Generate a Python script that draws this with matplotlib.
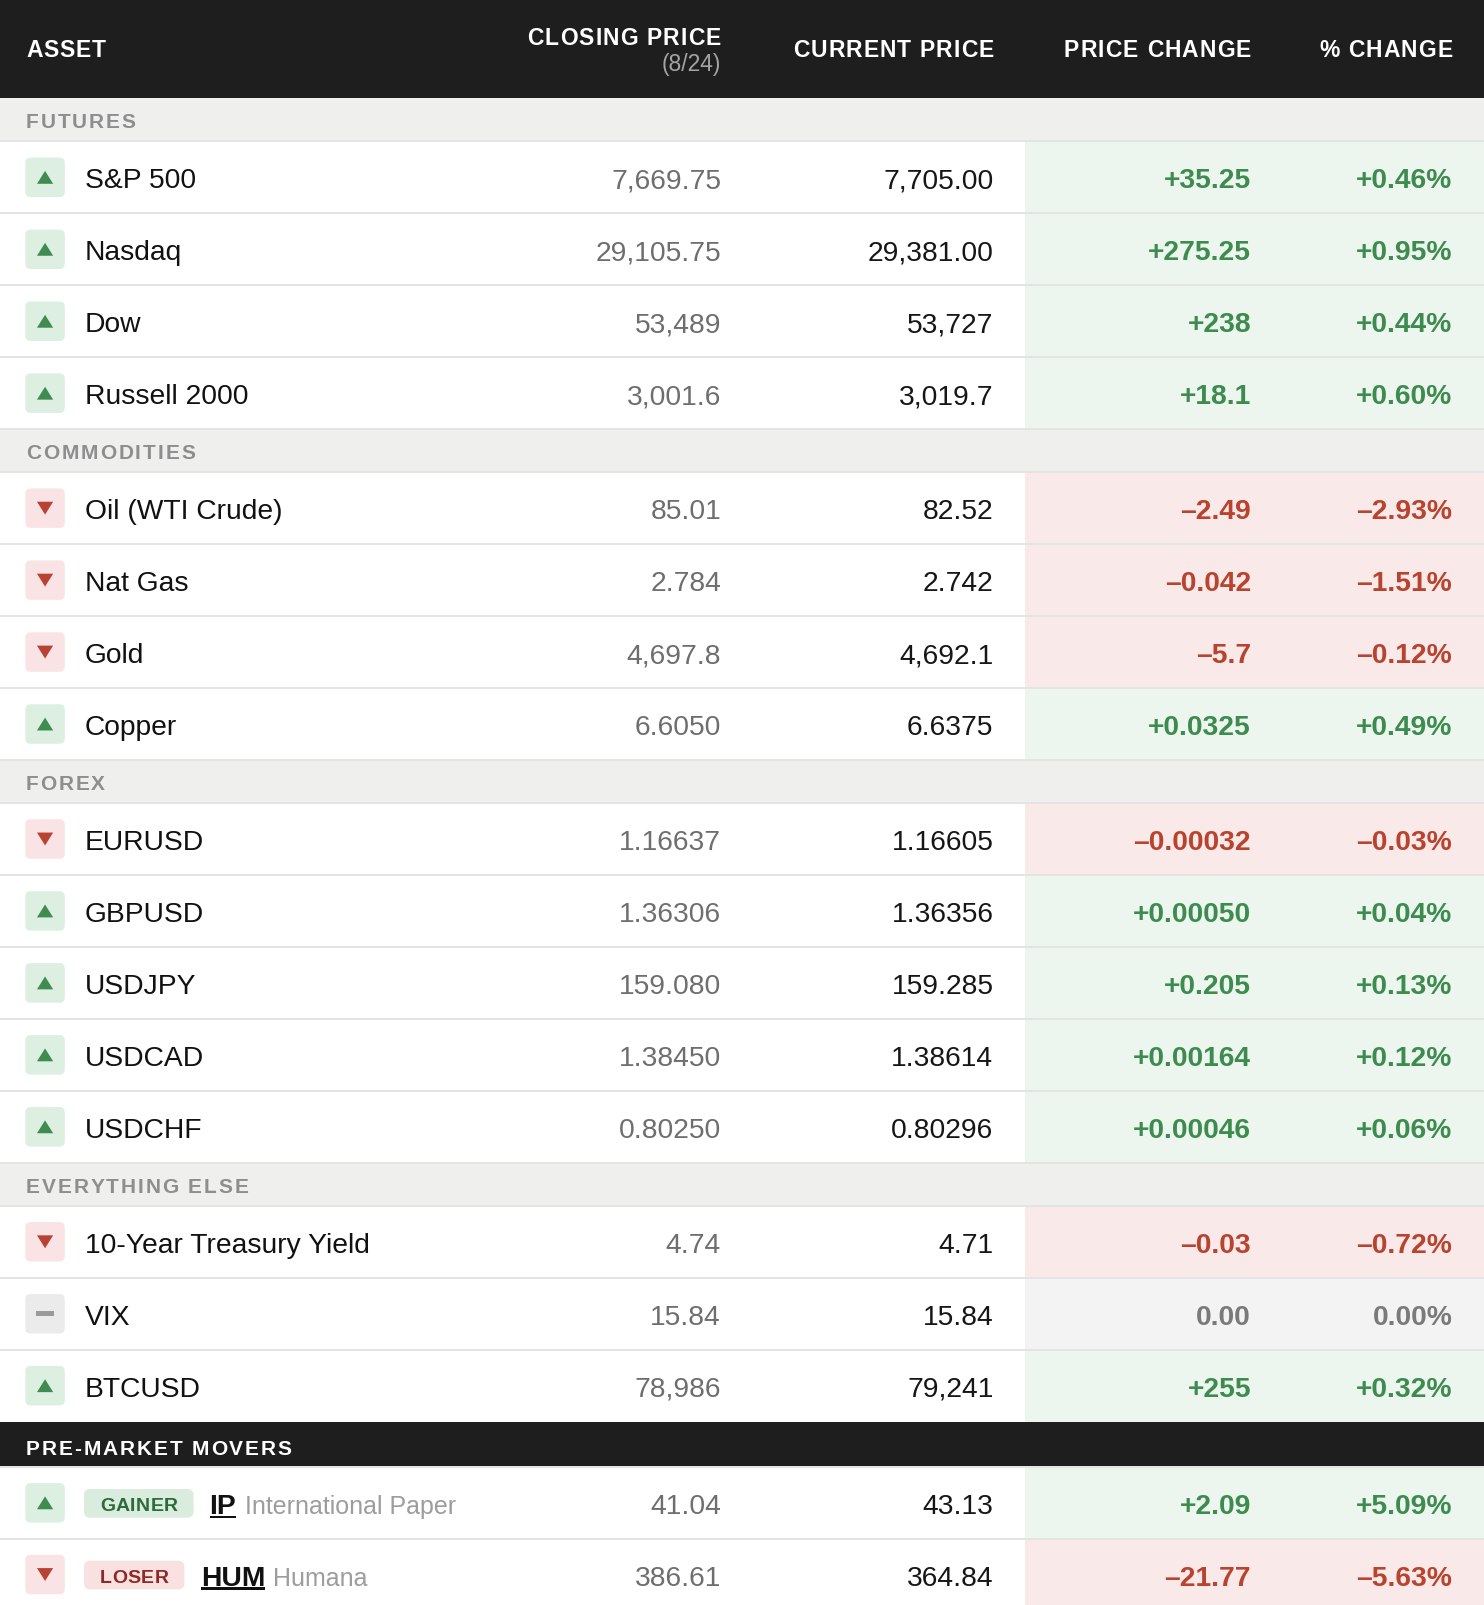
import matplotlib
matplotlib.use("Agg")
import matplotlib.pyplot as plt
from matplotlib.patches import Rectangle, FancyBboxPatch, Polygon
from matplotlib.font_manager import FontProperties

# ---------------- data ----------------
column_headers = ["ASSET", "CLOSING PRICE", "CURRENT PRICE", "PRICE CHANGE", "% CHANGE"]
closing_date = "(8/24)"

section_names = ["FUTURES", "COMMODITIES", "FOREX", "EVERYTHING ELSE"]
section_sizes = [4, 4, 5, 3]

assets = ["S&P 500", "Nasdaq", "Dow", "Russell 2000",
          "Oil (WTI Crude)", "Nat Gas", "Gold", "Copper",
          "EURUSD", "GBPUSD", "USDJPY", "USDCAD", "USDCHF",
          "10-Year Treasury Yield", "VIX", "BTCUSD"]
closing_prices = ["7,669.75", "29,105.75", "53,489", "3,001.6",
                  "85.01", "2.784", "4,697.8", "6.6050",
                  "1.16637", "1.36306", "159.080", "1.38450", "0.80250",
                  "4.74", "15.84", "78,986"]
current_prices = ["7,705.00", "29,381.00", "53,727", "3,019.7",
                  "82.52", "2.742", "4,692.1", "6.6375",
                  "1.16605", "1.36356", "159.285", "1.38614", "0.80296",
                  "4.71", "15.84", "79,241"]
price_changes = ["+35.25", "+275.25", "+238", "+18.1",
                 "\u20132.49", "\u20130.042", "\u20135.7", "+0.0325",
                 "\u20130.00032", "+0.00050", "+0.205", "+0.00164", "+0.00046",
                 "\u20130.03", "0.00", "+255"]
pct_changes = ["+0.46%", "+0.95%", "+0.44%", "+0.60%",
               "\u20132.93%", "\u20131.51%", "\u20130.12%", "+0.49%",
               "\u20130.03%", "+0.04%", "+0.13%", "+0.12%", "+0.06%",
               "\u20130.72%", "0.00%", "+0.32%"]

mover_title = "PRE-MARKET MOVERS"
mover_tags = ["GAINER", "LOSER"]
mover_tickers = ["IP", "HUM"]
mover_names = ["International Paper", "Humana"]
mover_closing = ["41.04", "386.61"]
mover_current = ["43.13", "364.84"]
mover_changes = ["+2.09", "\u201321.77"]
mover_pcts = ["+5.09%", "\u20135.63%"]

# ---------------- style ----------------
FONT = "Liberation Sans"
DARK = "#1e1e1e"
SECTION_BG = "#efefed"
SECTION_FG = "#8e8e8e"
LINE = "#e4e4e4"
STYLE = {
    "up":   dict(fg="#3d8b4f", bg="#ecf6ee", icon_bg="#dcefe1", icon_fg="#3f8b50",
                 pill_bg="#d9ecdd", pill_fg="#2d6b3d"),
    "down": dict(fg="#b8432f", bg="#f9e9e8", icon_bg="#fae3e4", icon_fg="#b94333",
                 pill_bg="#f9e1e2", pill_fg="#8e2a25"),
    "flat": dict(fg="#7a7a7a", bg="#f3f3f3", icon_bg="#ebebeb", icon_fg="#9a9a9a",
                 pill_bg="#eeeeee", pill_fg="#777777"),
}

W, H = 1449.0, 1568.0
fig = plt.figure(figsize=(14.84, 16.06), dpi=100)
ax = fig.add_axes([0, 0, 1, 1])
ax.set_xlim(0, W)
ax.set_ylim(H, 0)
ax.axis("off")
renderer = fig.canvas.get_renderer()
PX = W / 1484.0

HEADER_H = 97.0
SECTION_H = 42.0
ROW_H = 70.25
DARK_H = 44.25
MOVER_H = 70.0
X_NAME = 83.0
X_ICON = 44.0
COL_RIGHT = [None, 704.0, 970.0, 1221.5, 1418.0]
CHANGE_X0 = 1001.0
ROW_FS = 20.3
CAP = 0.716


def text_w(s, size, weight):
    fp = FontProperties(family=FONT, size=size, weight=weight)
    w, h, d = renderer.get_text_width_height_descent(s, fp, ismath=False)
    return w * PX


_adv = {}


def adv(ch, size, weight):
    k = (ch, size, weight)
    if k not in _adv:
        _adv[k] = text_w("|" + ch + "|", size, weight) - text_w("||", size, weight)
    return _adv[k]


def tracked(x, y, s, size, weight, color, target, ha="left"):
    advs = [adv(c, size, weight) for c in s]
    natural = sum(advs)
    sp = (target - natural) / (len(s) - 1) if len(s) > 1 else 0.0
    total = natural + sp * (len(s) - 1)
    cx = x if ha == "left" else x - total
    for c, a in zip(s, advs):
        if c != " ":
            ax.text(cx, y, c, fontsize=size, fontweight=weight, color=color,
                    family=FONT, ha="left", va="baseline", zorder=5)
        cx += a + sp


def baseline(center, size):
    return center + CAP * size * (100 / 72.0) * PX / 2.0


def direction(change):
    if change.startswith("+"):
        return "up"
    if change.startswith("\u2013") or change.startswith("-"):
        return "down"
    return "flat"


def draw_icon(cy, d):
    st = STYLE[d]
    s = 38.5
    ax.add_patch(FancyBboxPatch((X_ICON - s / 2, cy - s / 2), s, s,
                                boxstyle="round,pad=0,rounding_size=5",
                                fc=st["icon_bg"], ec="none", zorder=3))
    hw, hh = 7.9, 6.3
    if d == "up":
        pts = [(X_ICON - hw, cy + hh), (X_ICON + hw, cy + hh), (X_ICON, cy - hh)]
        ax.add_patch(Polygon(pts, closed=True, fc=st["icon_fg"], ec="none", zorder=4))
    elif d == "down":
        pts = [(X_ICON - hw, cy - hh), (X_ICON + hw, cy - hh), (X_ICON, cy + hh)]
        ax.add_patch(Polygon(pts, closed=True, fc=st["icon_fg"], ec="none", zorder=4))
    else:
        ax.add_patch(Rectangle((X_ICON - 9.2, cy - 2.2), 18.4, 4.4,
                               fc=st["icon_fg"], ec="none", zorder=4))


def draw_values(cy, top, height, close, cur, chg, pct):
    d = direction(chg)
    st = STYLE[d]
    ax.add_patch(Rectangle((CHANGE_X0, top), W - CHANGE_X0, height,
                           fc=st["bg"], ec="none", zorder=1))
    by = baseline(cy, ROW_FS)
    ax.text(COL_RIGHT[1], by, close, fontsize=ROW_FS, color="#6e6e6e", family=FONT,
            ha="right", va="baseline", zorder=5)
    ax.text(COL_RIGHT[2], by, cur, fontsize=ROW_FS, color="#161616", family=FONT,
            ha="right", va="baseline", zorder=5)
    ax.text(COL_RIGHT[3], by, chg, fontsize=ROW_FS, color=st["fg"], family=FONT,
            fontweight="bold", ha="right", va="baseline", zorder=5)
    ax.text(COL_RIGHT[4], by, pct, fontsize=ROW_FS, color=st["fg"], family=FONT,
            fontweight="bold", ha="right", va="baseline", zorder=5)
    draw_icon(cy, d)
    return d


def hline(y):
    ax.add_patch(Rectangle((0, y - 1.0), W, 2.0, fc=LINE, ec="none", zorder=2))


# ---------------- header ----------------
ax.add_patch(Rectangle((0, 0), W, HEADER_H, fc=DARK, ec="none", zorder=1))
HFS = 16.5
header_targets = [77.5, 189.5, 195.5, 182.8, 129.5]
tracked(25.4, 55.8, column_headers[0], HFS, "bold", "white", header_targets[0])
tracked(COL_RIGHT[1], 44.2, column_headers[1], HFS, "bold", "white", header_targets[1], ha="right")
ax.text(COL_RIGHT[1], 69.5, closing_date, fontsize=16.5, color="#a3a3a3", family=FONT,
        ha="right", va="baseline", zorder=5)
for i in (2, 3, 4):
    tracked(COL_RIGHT[i], 55.8, column_headers[i], HFS, "bold", "white",
            header_targets[i], ha="right")

# ---------------- sections ----------------
section_targets = [106.4, 165.0, 77.0, 217.0]
SFS = 15
y = HEADER_H
idx = 0
for si, (sname, n) in enumerate(zip(section_names, section_sizes)):
    ax.add_patch(Rectangle((0, y), W, SECTION_H, fc=SECTION_BG, ec="none", zorder=1))
    if si > 0:
        hline(y)
    tracked(25.4, y + SECTION_H / 2 + 7.2, sname, SFS, "bold", SECTION_FG, section_targets[si])
    y += SECTION_H
    hline(y)
    for r in range(n):
        cy = y + ROW_H / 2
        draw_values(cy, y, ROW_H, closing_prices[idx], current_prices[idx],
                    price_changes[idx], pct_changes[idx])
        ax.text(X_NAME, baseline(cy, ROW_FS), assets[idx], fontsize=ROW_FS, color="#111111",
                family=FONT, ha="left", va="baseline", zorder=5)
        y += ROW_H
        if r < n - 1:
            hline(y)
        idx += 1

# ---------------- pre-market movers ----------------
ax.add_patch(Rectangle((0, y), W, DARK_H, fc=DARK, ec="none", zorder=1))
tracked(25.4, y + 31.8, mover_title, SFS, "bold", "white", 259.4)
y += DARK_H
pill_w = {"GAINER": 107.0, "LOSER": 98.0}
tag_targets = {"GAINER": 76.4, "LOSER": 66.9}
name_x = {"IP": 239.0, "HUM": 267.0}
ticker_x = {"IP": 204.6, "HUM": 196.0}
for i in range(len(mover_tickers)):
    hline(y)
    cy = y + MOVER_H / 2
    d = draw_values(cy, y, MOVER_H, mover_closing[i], mover_current[i],
                    mover_changes[i], mover_pcts[i])
    st = STYLE[d]
    tag = mover_tags[i]
    ax.add_patch(FancyBboxPatch((82.0, cy - 13.5), pill_w.get(tag, 100.0), 28.0,
                                boxstyle="round,pad=0,rounding_size=6",
                                fc=st["pill_bg"], ec="none", zorder=3))
    tracked(97.6, cy + 7.4, tag, 14, "bold", st["pill_fg"], tag_targets.get(tag, 70.0))
    tk = mover_tickers[i]
    bx = ticker_x.get(tk, 200.0)
    by = baseline(cy, ROW_FS)
    ax.text(bx, by, tk, fontsize=ROW_FS, fontweight="bold", color="#111111", family=FONT,
            ha="left", va="baseline", zorder=5)
    tw = text_w(tk, ROW_FS, "bold")
    ax.add_patch(Rectangle((bx, by + 2.6), tw, 2.2, fc="#111111", ec="none", zorder=5))
    ax.text(name_x.get(tk, bx + tw + 9), by, mover_names[i], fontsize=18, color="#9d9d9d",
            family=FONT, ha="left", va="baseline", zorder=5)
    y += MOVER_H

fig.savefig("out.png", dpi=100)
